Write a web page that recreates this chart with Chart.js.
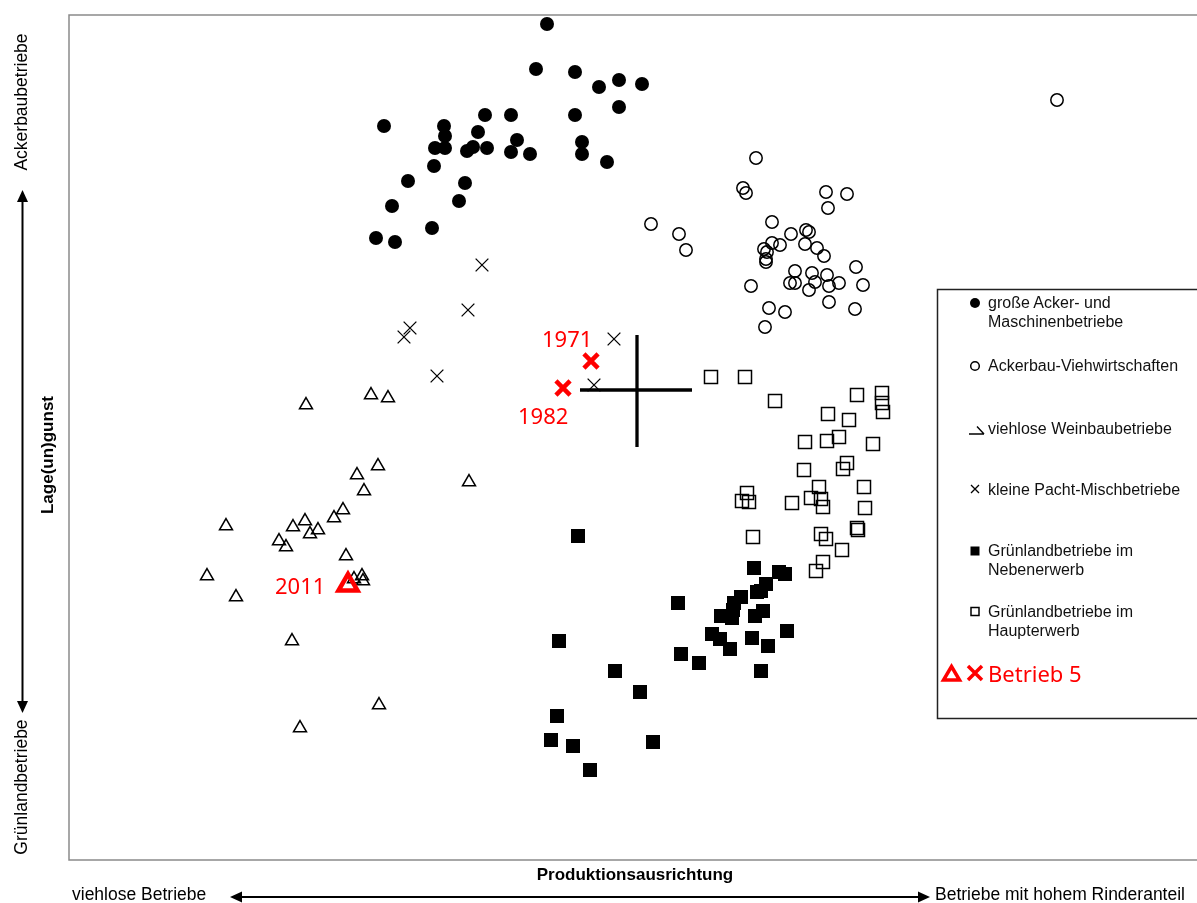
<!DOCTYPE html>
<html><head><meta charset="utf-8">
<script src="https://cdn.jsdelivr.net/npm/chart.js@4"></script>
<style>
html,body{margin:0;padding:0;background:#fff;}
#wrap{position:relative;width:1197px;height:903px;overflow:hidden;font-family:"Liberation Sans",Arial,sans-serif;color:#000;}
canvas{position:absolute;left:0;top:0;}
.t{position:absolute;white-space:nowrap;}
.leg{font-size:16px;line-height:19px;color:#111;left:988px;}
.edge{font-size:17.5px;line-height:20px;}
.bold{font-weight:bold;font-size:17px;line-height:20px;}
.rot{transform:rotate(-90deg);transform-origin:50% 50%;text-align:center;width:300px;height:20px;}
.red{color:#ff0000;font-family:"Noto Sans",sans-serif;font-size:22px;line-height:26px;}
</style></head>
<body><div id="wrap">
<canvas id="c" width="1197" height="903"></canvas>
<div class="t leg" style="top:292.5px">große Acker- und<br>Maschinenbetriebe</div>
<div class="t leg" style="top:355.5px">Ackerbau-Viehwirtschaften</div>
<div class="t leg" style="top:418.5px">viehlose Weinbaubetriebe</div>
<div class="t leg" style="top:479.5px">kleine Pacht-Mischbetriebe</div>
<div class="t leg" style="top:541px">Grünlandbetriebe im<br>Nebenerwerb</div>
<div class="t leg" style="top:601.5px">Grünlandbetriebe im<br>Haupterwerb</div>
<div class="t red" style="left:988px;top:660px">Betrieb 5</div>
<div class="t red" style="left:542px;top:325px">1971</div>
<div class="t red" style="left:518px;top:402px">1982</div>
<div class="t red" style="left:275px;top:572px">2011</div>
<div class="t bold" style="left:435px;width:400px;text-align:center;top:865px">Produktionsausrichtung</div>
<div class="t bold rot" style="left:-102px;top:445px">Lage(un)gunst</div>
<div class="t edge rot" style="left:-129px;top:92px">Ackerbaubetriebe</div>
<div class="t edge rot" style="left:-129px;top:777px">Grünlandbetriebe</div>
<div class="t edge" style="left:72px;top:884px">viehlose Betriebe</div>
<div class="t edge" style="left:935px;top:884px">Betriebe mit hohem Rinderanteil</div>
</div>
<script>
// Values: x = Produktionsausrichtung, y = Lage(un)gunst (factor scores)
const grosseAckerbetriebe = [
 [-0.90,3.66],[-1.01,3.21],[-0.62,3.18],[-0.38,3.03],[-0.18,3.10],[0.05,3.06],[-0.18,2.83],
 [-2.53,2.64],[-1.93,2.64],[-1.92,2.54],[-1.59,2.58],[-1.52,2.75],[-1.26,2.75],[-0.62,2.75],
 [-2.02,2.42],[-1.92,2.42],[-1.70,2.39],[-1.64,2.43],[-1.50,2.42],[-1.26,2.38],[-1.20,2.50],
 [-1.07,2.36],[-0.55,2.48],[-0.55,2.36],[-0.30,2.28],[-2.03,2.24],[-2.29,2.09],[-1.72,2.07],
 [-2.45,1.84],[-1.78,1.89],[-2.05,1.62],[-2.61,1.52],[-2.42,1.48]
];
const ackerbauVieh = [
 [1.19,2.32],[1.06,2.02],[1.09,1.97],[1.89,1.98],[2.10,1.96],[1.91,1.82],[1.35,1.68],[1.54,1.56],
 [1.69,1.60],[1.72,1.58],[1.27,1.41],[1.35,1.47],[1.43,1.45],[1.30,1.38],[1.29,1.31],[1.29,1.28],
 [1.68,1.46],[1.80,1.42],[1.87,1.34],[2.19,1.23],[1.58,1.19],[1.75,1.17],[1.90,1.15],[1.53,1.07],
 [1.58,1.07],[1.78,1.08],[1.72,1.00],[1.92,1.04],[2.02,1.07],[2.26,1.05],[1.14,1.04],[1.92,0.88],
 [1.32,0.82],[1.48,0.78],[2.18,0.81],[1.28,0.63],[0.14,1.66],[0.42,1.56],[0.49,1.40],[4.20,2.90]
];
const weinbau = [
 [-3.31,-0.15],[-2.66,-0.05],[-2.49,-0.08],[-1.68,-0.92],[-2.59,-0.76],[-2.80,-0.85],[-2.73,-1.01],
 [-2.94,-1.20],[-3.03,-1.28],[-3.32,-1.31],[-3.44,-1.37],[-3.27,-1.44],[-3.19,-1.40],[-3.58,-1.51],
 [-3.51,-1.57],[-4.11,-1.36],[-2.91,-1.66],[-4.30,-1.86],[-4.01,-2.07],[-2.83,-1.89],[-2.75,-1.86],
 [-2.74,-1.91],[-3.45,-2.51],[-2.58,-3.15],[-3.37,-3.38]
];
const pachtMisch = [
 [-1.55,1.25],[-1.69,0.80],[-2.27,0.62],[-2.33,0.53],[-2.00,0.14],[-0.23,0.51],[-0.43,0.05]
];
const gruenNeben = [
 [-0.59,-1.46],[1.17,-1.78],[1.42,-1.82],[1.48,-1.84],[1.29,-1.94],[1.24,-2.01],[1.20,-2.02],
 [1.04,-2.07],[0.97,-2.13],[0.96,-2.20],[0.84,-2.26],[0.95,-2.28],[1.18,-2.26],[1.26,-2.21],
 [1.50,-2.41],[0.75,-2.44],[0.83,-2.49],[1.15,-2.48],[1.31,-2.56],[0.93,-2.59],[0.62,-2.73],
 [1.24,-2.81],[0.41,-2.13],[-0.78,-2.51],[0.44,-2.64],[-0.22,-2.81],[0.03,-3.02],[-0.80,-3.26],
 [-0.86,-3.50],[-0.64,-3.56],[0.16,-3.52],[-0.47,-3.80]
];
const gruenHaupt = [
 [0.74,0.13],[1.08,0.13],[1.38,-0.11],[2.20,-0.05],[2.45,-0.03],[2.45,-0.13],[2.46,-0.22],
 [1.91,-0.24],[2.12,-0.30],[2.02,-0.47],[1.90,-0.51],[1.68,-0.52],[2.36,-0.54],[2.10,-0.73],
 [2.06,-0.79],[1.67,-0.80],[2.27,-0.97],[1.82,-0.97],[1.10,-1.03],[1.05,-1.11],[1.12,-1.12],
 [1.55,-1.13],[1.74,-1.08],[1.84,-1.09],[1.86,-1.17],[2.28,-1.18],[2.20,-1.38],[2.21,-1.40],
 [1.84,-1.44],[1.89,-1.49],[2.05,-1.60],[1.86,-1.72],[1.79,-1.81],[1.16,-1.47]
];
const betrieb5Jahre = ['1971','1982','2011'];
const betrieb5Kreuz = [[-0.46,0.29],[-0.74,0.02]];   // 1971, 1982
const betrieb5Dreieck = [[-2.89,-1.95]];             // 2011
const achsenKreuzH = [[-0.57,0],[0.55,0]];
const achsenKreuzV = [[0,0.55],[0,-0.57]];
const xRange = [-5.68, 5.60];
const yRange = [-4.70, 3.75];

const pts = a => a.map(([x,y]) => ({x, y}));

const decor = {
  id: 'decor',
  beforeDatasetsDraw(chart) {
    const c = chart.ctx, a = chart.chartArea;
    c.save();
    c.strokeStyle = '#8a8a8a'; c.lineWidth = 1.5;
    c.beginPath();
    c.moveTo(a.right + 2, a.top); c.lineTo(a.left, a.top);
    c.lineTo(a.left, a.bottom); c.lineTo(a.right + 2, a.bottom);
    c.stroke();
    c.restore();
  },
  afterDraw(chart) {
    const c = chart.ctx;
    c.save();
    // legend box
    c.fillStyle = '#fff';
    c.fillRect(937.5, 289.5, 300, 429);
    c.strokeStyle = '#222'; c.lineWidth = 1.5;
    c.strokeRect(937.5, 289.5, 300, 429);
    // legend symbols
    c.fillStyle = '#000'; c.strokeStyle = '#000';
    c.beginPath(); c.arc(975, 303, 5, 0, Math.PI*2); c.fill();
    c.lineWidth = 1.5;
    c.beginPath(); c.arc(975, 366, 4.3, 0, Math.PI*2); c.stroke();
    c.lineWidth = 1.4;
    c.beginPath(); c.moveTo(969, 434); c.lineTo(984, 434); c.moveTo(977, 426.5); c.lineTo(984, 434); c.stroke();
    c.lineWidth = 1.3;
    c.beginPath(); c.moveTo(971, 485); c.lineTo(979, 493); c.moveTo(979, 485); c.lineTo(971, 493); c.stroke();
    c.fillRect(970.5, 546.5, 9, 9);
    c.lineWidth = 1.5;
    c.strokeRect(971, 607.5, 8, 8);
    // Betrieb 5 symbols
    c.strokeStyle = '#ff0000'; c.lineWidth = 3.5; c.lineJoin = 'miter';
    c.beginPath(); c.moveTo(951.5, 666.5); c.lineTo(959.5, 680); c.lineTo(943.5, 680); c.closePath(); c.stroke();
    c.beginPath(); c.moveTo(968, 666); c.lineTo(982, 680); c.moveTo(982, 666); c.lineTo(968, 680); c.stroke();
    // outer arrows
    c.strokeStyle = '#000'; c.fillStyle = '#000'; c.lineWidth = 2;
    c.beginPath(); c.moveTo(22.5, 198); c.lineTo(22.5, 705); c.stroke();
    c.beginPath(); c.moveTo(22.5, 190); c.lineTo(17, 202); c.lineTo(28, 202); c.closePath(); c.fill();
    c.beginPath(); c.moveTo(22.5, 713); c.lineTo(17, 701); c.lineTo(28, 701); c.closePath(); c.fill();
    c.beginPath(); c.moveTo(238, 897); c.lineTo(922, 897); c.stroke();
    c.beginPath(); c.moveTo(230, 897); c.lineTo(242, 891.5); c.lineTo(242, 902.5); c.closePath(); c.fill();
    c.beginPath(); c.moveTo(930, 897); c.lineTo(918, 891.5); c.lineTo(918, 902.5); c.closePath(); c.fill();
    c.restore();
  }
};

new Chart(document.getElementById('c').getContext('2d'), {
  type: 'scatter',
  data: { datasets: [
    { label: 'Betrieb 5 (' + betrieb5Jahre[2] + ')', data: pts(betrieb5Dreieck), pointStyle: 'triangle', pointRadius: 11,
      pointBorderColor: '#ff0000', pointBackgroundColor: 'rgba(0,0,0,0)', pointBorderWidth: 4.5 },
    { label: 'Betrieb 5 (' + betrieb5Jahre[0] + ', ' + betrieb5Jahre[1] + ')', data: pts(betrieb5Kreuz), pointStyle: 'crossRot', pointRadius: 10,
      pointBorderColor: '#ff0000', pointBorderWidth: 4.5 },
    { label: 'Achsenkreuz H', data: pts(achsenKreuzH), showLine: true, borderColor: '#000', borderWidth: 3.3, pointRadius: 0 },
    { label: 'Achsenkreuz V', data: pts(achsenKreuzV), showLine: true, borderColor: '#000', borderWidth: 3.3, pointRadius: 0 },
    { label: 'kleine Pacht-Mischbetriebe', data: pts(pachtMisch), pointStyle: 'crossRot', pointRadius: 9,
      pointBorderColor: '#000', pointBorderWidth: 1.3 },
    { label: 'viehlose Weinbaubetriebe', data: pts(weinbau), pointStyle: 'triangle', pointRadius: 7.5,
      pointBorderColor: '#000', pointBackgroundColor: 'rgba(255,255,255,0)', pointBorderWidth: 1.5 },
    { label: 'Grünlandbetriebe im Haupterwerb', data: pts(gruenHaupt), pointStyle: 'rect', pointRadius: 9.2,
      pointBorderColor: '#000', pointBackgroundColor: 'rgba(255,255,255,0)', pointBorderWidth: 1.5 },
    { label: 'Grünlandbetriebe im Nebenerwerb', data: pts(gruenNeben), pointStyle: 'rect', pointRadius: 9.9,
      pointBorderColor: '#000', pointBackgroundColor: '#000', pointBorderWidth: 0 },
    { label: 'Ackerbau-Viehwirtschaften', data: pts(ackerbauVieh), pointStyle: 'circle', pointRadius: 6.2,
      pointBorderColor: '#000', pointBackgroundColor: 'rgba(255,255,255,0)', pointBorderWidth: 1.5 },
    { label: 'große Acker- und Maschinenbetriebe', data: pts(grosseAckerbetriebe), pointStyle: 'circle', pointRadius: 7,
      pointBorderColor: '#000', pointBackgroundColor: '#000', pointBorderWidth: 0 }
  ]},
  options: {
    responsive: false, animation: false, events: [],
    layout: { autoPadding: false, padding: { left: 69, top: 15, right: 0, bottom: 43 } },
    scales: {
      x: { type: 'linear', min: xRange[0], max: xRange[1], display: false },
      y: { type: 'linear', min: yRange[0], max: yRange[1], display: false }
    },
    plugins: { legend: { display: false }, tooltip: { enabled: false } }
  },
  plugins: [decor]
});
</script>
</body></html>
